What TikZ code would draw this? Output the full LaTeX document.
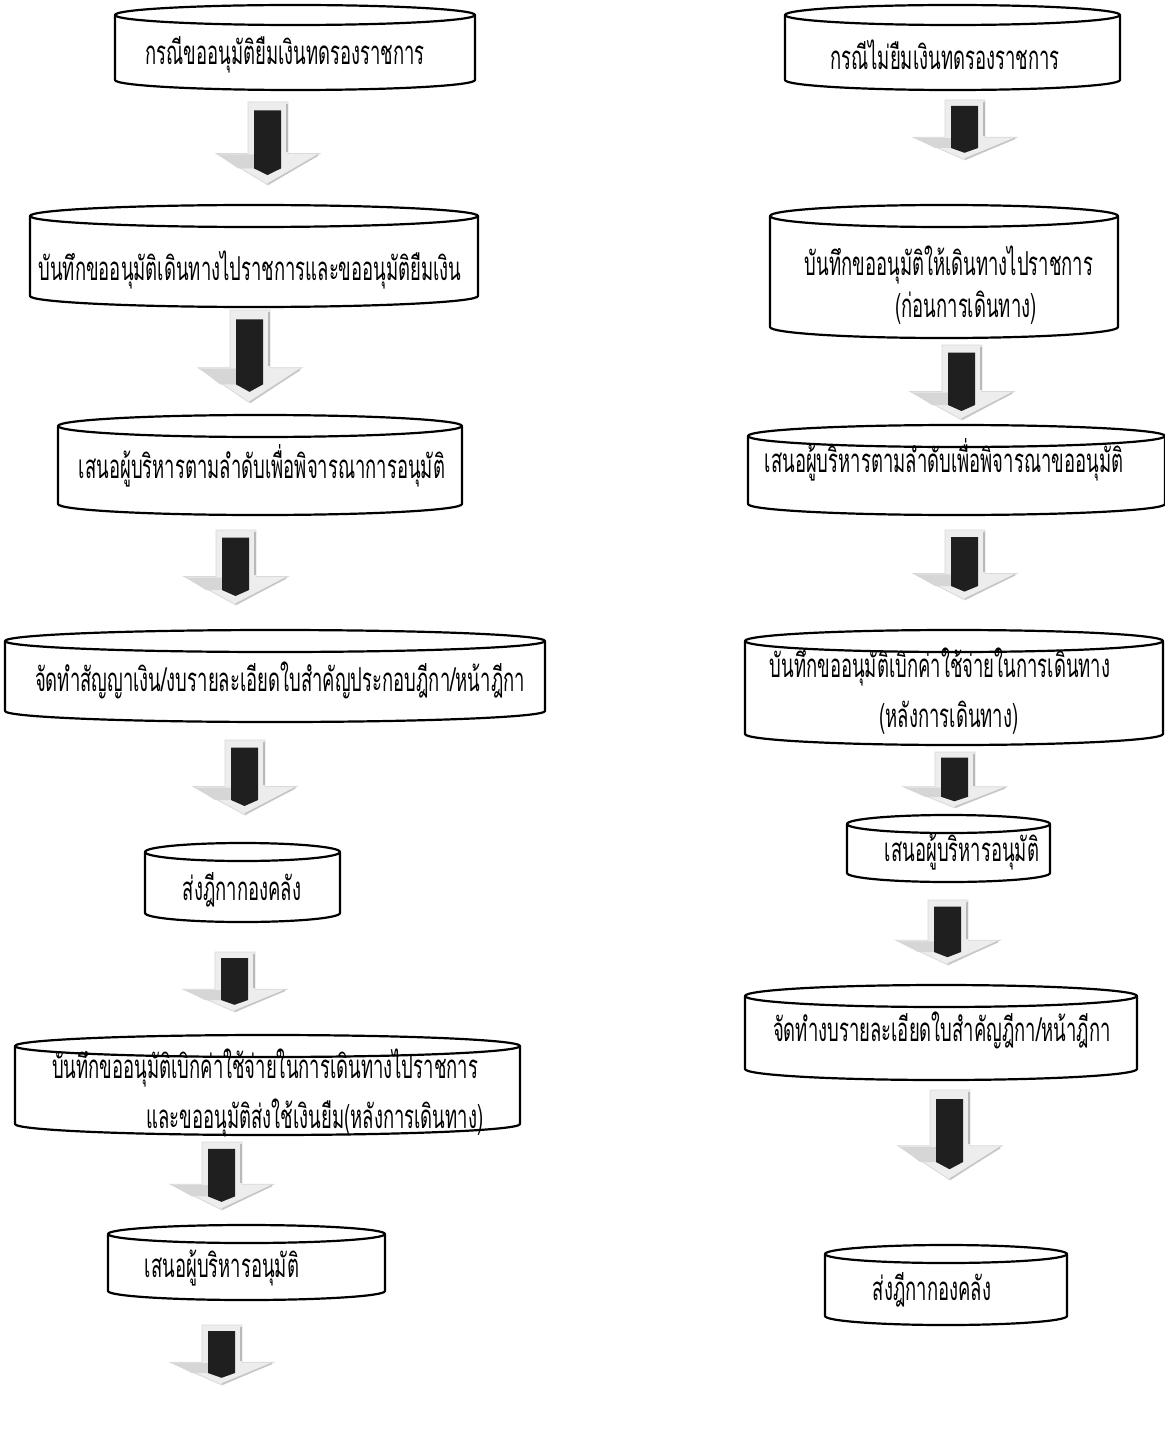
\documentclass[tikz,border=0pt]{standalone}
\usepackage{fontspec}
\newfontfamily\thaifont[Script=Thai,FakeStretch=0.56]{Loma}
\tikzset{
  canline/.style={draw=black, line width=1.1pt, line join=round},
  lbl/.style={font=\thaifont\fontsize{16.5}{19}\selectfont, inner sep=0pt, anchor=center},
  arrbody/.style={fill=gray!14, draw=gray!30, line width=0.4pt},
  arrwing/.style={fill=gray!32},
  arrcore/.style={fill=black!88, draw=none},
}
% a flat can: x-left, x-right, top, bottom, half height of the rim ellipse
\newcommand{\drawcan}[5]{%
  \fill[white] (#1,{#3+#5}) -- (#1,{#4-#5}) arc[start angle=180,end angle=0,x radius={(#2-#1)/2},y radius=#5] -- (#2,{#3+#5}) -- cycle;
  \draw[canline] ({(#1+#2)/2},{#3+#5}) ellipse[x radius={(#2-#1)/2}, y radius=#5];
  \draw[canline] (#1,{#3+#5}) -- (#1,{#4-#5}) arc[start angle=180,end angle=0,x radius={(#2-#1)/2},y radius=#5] -- (#2,{#3+#5});
}
% a shaded block arrow pointing down: centre x, top, bottom
\newcommand{\drawdownarrow}[3]{%
  \path[arrbody] ({#1-20},#2) -- ({#1+20},#2) -- ({#1+20},{#2+0.62*(#3-#2)}) -- ({#1+52},{#2+0.62*(#3-#2)})
     -- (#1,#3) -- ({#1-52},{#2+0.62*(#3-#2)}) -- ({#1-20},{#2+0.62*(#3-#2)}) -- cycle;
  \path[arrwing] ({#1-50},{#2+0.62*(#3-#2)+1}) -- ({#1-14},{#2+0.62*(#3-#2)+1}) -- ({#1-14},{#2+0.80*(#3-#2)}) -- ({#1-30},{#2+0.80*(#3-#2)}) -- cycle;
  \draw[gray!55, line width=0.8pt] ({#1+19},{#2+2}) -- ({#1+19},{#2+0.60*(#3-#2)});
  \draw[gray!45, line width=0.8pt] ({#1+50},{#2+0.64*(#3-#2)}) -- (#1,{#3-1});
  \path[arrcore] ({#1-14},{#2+0.10*(#3-#2)}) -- ({#1+13},{#2+0.10*(#3-#2)}) -- ({#1+13},{#2+0.80*(#3-#2)})
     -- ({#1-0.5},{#2+0.88*(#3-#2)}) -- ({#1-14},{#2+0.80*(#3-#2)}) -- cycle;
}
\begin{document}
\begin{tikzpicture}[x=0.5pt,y=-0.5pt]
\useasboundingbox[fill=white] (0,0) rectangle (1165,1439);

% ---------- left column: with an advance of funds ----------
\drawcan{115}{475}{5}{90}{10}
\node[lbl] (l1) at (285,55) {กรณีขออนุมัติยืมเงินทดรองราชการ};
\drawdownarrow{268}{102}{185}

\drawcan{30}{478}{205}{307}{11}
\node[lbl] (l2) at (250,270) {บันทึกขออนุมัติเดินทางไปราชการและขออนุมัติยืมเงิน};
\drawdownarrow{250}{310}{403}

\drawcan{58}{462}{415}{515}{11}
\node[lbl] (l3) at (262,466) {เสนอผู้บริหารตามลำดับเพื่อพิจารณาการอนุมัติ};
\drawdownarrow{236}{530}{605}

\drawcan{5}{545}{630}{722}{11}
\node[lbl] (l4) at (280,680) {จัดทำสัญญาเงิน/งบรายละเอียดใบสำคัญประกอบฎีกา/หน้าฎีกา};
\drawdownarrow{245}{740}{815}

\drawcan{145}{340}{843}{922}{9}
\node[lbl] (l5) at (242,890) {ส่งฎีกากองคลัง};
\drawdownarrow{235}{952}{1012}

\drawcan{15}{520}{1035}{1135}{11}
\node[lbl] (l6a) at (265,1068) {บันทึกขออนุมัติเบิกค่าใช้จ่ายในการเดินทางไปราชการ};
\node[lbl] (l6b) at (315,1118) {และขออนุมัติส่งใช้เงินยืม(หลังการเดินทาง)};
\drawdownarrow{222}{1142}{1210}

\drawcan{108}{385}{1225}{1300}{9}
\node[lbl] (l7) at (222,1268) {เสนอผู้บริหารอนุมัติ};
\drawdownarrow{222}{1325}{1385}

% ---------- right column: without an advance of funds ----------
\drawcan{785}{1120}{5}{90}{10}
\node[lbl] (r1) at (945,55) {กรณีไม่ยืมเงินทดรองราชการ};
\drawdownarrow{965}{100}{160}

\drawcan{770}{1118}{205}{338}{11}
\node[lbl] (r2a) at (949,265) {บันทึกขออนุมัติให้เดินทางไปราชการ};
\node[lbl] (r2b) at (966,308) {(ก่อนการเดินทาง)};
\drawdownarrow{962}{345}{420}

\drawcan{748}{1165}{425}{515}{11}
\node[lbl] (r3) at (944,460) {เสนอผู้บริหารตามลำดับเพื่อพิจารณาขออนุมัติ};
\drawdownarrow{965}{530}{600}

\drawcan{745}{1163}{630}{745}{11}
\node[lbl] (r4a) at (940,667) {บันทึกขออนุมัติเบิกค่าใช้จ่ายในการเดินทาง};
\node[lbl] (r4b) at (949,718) {(หลังการเดินทาง)};
\drawdownarrow{955}{752}{808}

\drawcan{847}{1050}{815}{882}{9}
\node[lbl] (r5) at (962,852) {เสนอผู้บริหารอนุมัติ};
\drawdownarrow{948}{900}{965}

\drawcan{745}{1137}{985}{1080}{11}
\node[lbl] (r6) at (942,1030) {จัดทำงบรายละเอียดใบสำคัญฎีกา/หน้าฎีกา};
\drawdownarrow{950}{1090}{1180}

\drawcan{825}{1067}{1245}{1325}{9}
\node[lbl] (r7) at (932,1290) {ส่งฎีกากองคลัง};
\end{tikzpicture}
\end{document}
